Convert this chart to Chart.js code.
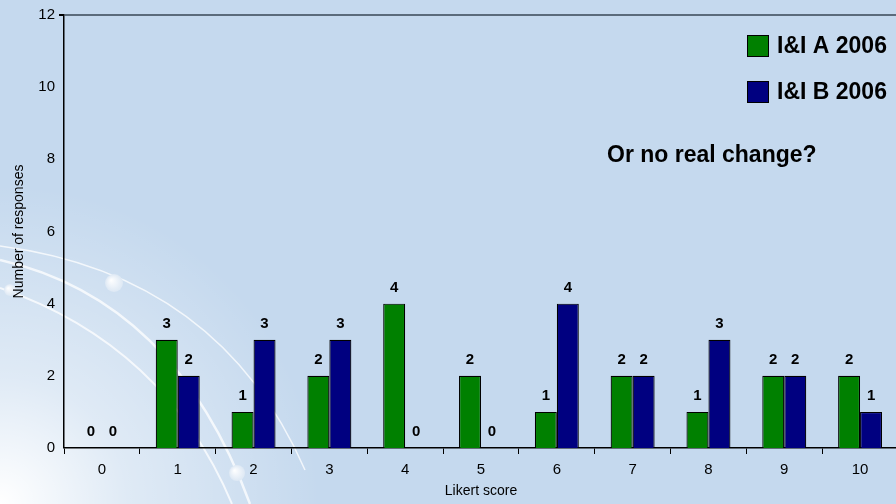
<!DOCTYPE html>
<html>
<head>
<meta charset="utf-8">
<script src="https://cdn.jsdelivr.net/npm/chart.js@4/dist/chart.umd.min.js"></script>
<style>
  html, body { margin: 0; padding: 0; overflow: hidden; background: #c5d9ee; }
  #wrap { width: 900px; height: 504px; }
</style>
</head>
<body>
<div id="wrap"><canvas id="chart" width="900" height="504"></canvas></div>
<script>
const categories = ['0', '1', '2', '3', '4', '5', '6', '7', '8', '9', '10'];
const seriesA = [0, 3, 1, 2, 4, 2, 1, 2, 1, 2, 2];
const seriesB = [0, 2, 3, 3, 0, 0, 4, 2, 3, 2, 1];
const yTicks = [0, 2, 4, 6, 8, 10, 12];
const legendNames = ['I&I A 2006', 'I&I B 2006'];

const FONT = 'Liberation Sans, Arial, sans-serif';

// background: light blue with white glow bottom-left and decorative arcs
const backdrop = {
    id: 'backdrop',
    beforeDraw(chart) {
        const c = chart.ctx;
        c.save();
        c.fillStyle = '#c5d9ee';
        c.fillRect(0, 0, chart.width, chart.height);
        const g = c.createRadialGradient(0, 504, 0, 0, 504, 320);
        g.addColorStop(0, 'rgba(255,255,255,1)');
        g.addColorStop(0.4, 'rgba(255,255,255,0.45)');
        g.addColorStop(1, 'rgba(255,255,255,0)');
        c.fillStyle = g;
        c.fillRect(0, 0, chart.width, chart.height);

        c.strokeStyle = 'rgba(255,255,255,0.75)';
        c.lineWidth = 1.5;
        c.beginPath();
        c.moveTo(0, 246);
        c.quadraticCurveTo(220, 275, 305, 470);
        c.stroke();
        c.lineWidth = 2.5;
        c.beginPath();
        c.moveTo(0, 260);
        c.quadraticCurveTo(175, 300, 250, 504);
        c.stroke();
        c.lineWidth = 2;
        c.beginPath();
        c.moveTo(0, 288);
        c.quadraticCurveTo(165, 345, 232, 504);
        c.stroke();

        [[114, 283, 9], [10, 290, 6], [237, 473, 8]].forEach(([x, y, r]) => {
            const bg = c.createRadialGradient(x - r / 3, y - r / 3, 0, x, y, r);
            bg.addColorStop(0, '#ffffff');
            bg.addColorStop(1, '#dde8f4');
            c.fillStyle = bg;
            c.beginPath();
            c.arc(x, y, r, 0, Math.PI * 2);
            c.fill();
        });
        c.restore();
    }
};

// value labels, legend and annotation
const extras = {
    id: 'extras',
    afterDatasetsDraw(chart) {
        const c = chart.ctx;
        c.save();
        c.fillStyle = '#000';
        c.font = 'bold 15px ' + FONT;
        c.textAlign = 'center';
        c.textBaseline = 'middle';
        chart.data.datasets.forEach((ds, i) => {
            chart.getDatasetMeta(i).data.forEach((bar, j) => {
                c.fillText(String(ds.data[j]), bar.x, bar.y - 16);
            });
        });

        const colors = ['#008000', '#000080'];
        c.font = 'bold 23px ' + FONT;
        c.textAlign = 'left';
        legendNames.forEach((name, i) => {
            const y = 35 + i * 46;
            c.fillStyle = colors[i];
            c.fillRect(747, y, 22, 22);
            c.strokeStyle = '#000';
            c.lineWidth = 1;
            c.strokeRect(747.5, y + 0.5, 21, 21);
            c.fillStyle = '#000';
            c.fillText(name, 777, y + 12);
        });
        c.fillText('Or no real change?', 607, 156);
        c.restore();
    }
};

new Chart(document.getElementById('chart'), {
    type: 'bar',
    data: {
        labels: categories,
        datasets: [
            { label: legendNames[0], data: seriesA, backgroundColor: '#008000', borderColor: '#000', borderWidth: 1.2 },
            { label: legendNames[1], data: seriesB, backgroundColor: '#000080', borderColor: '#000', borderWidth: 1.2 }
        ]
    },
    options: {
        responsive: false,
        animation: false,
        events: [],
        categoryPercentage: 0.58,
        barPercentage: 1,
        layout: { padding: { top: 15, right: 2, left: 0, bottom: 0 } },
        plugins: { legend: { display: false }, tooltip: { enabled: false } },
        scales: {
            x: {
                grid: { offset: true, drawOnChartArea: false, drawTicks: true, tickLength: 6, color: '#000' },
                border: { color: '#000', width: 1.5 },
                ticks: { color: '#000', font: { family: FONT, size: 15 }, padding: 7 },
                title: { display: true, text: 'Likert score', color: '#000', font: { family: FONT, size: 14 }, padding: { top: 8 } },
                afterFit(s) { s.height = 56; }
            },
            y: {
                min: 0, max: 12,
                afterBuildTicks(s) { s.ticks = yTicks.map(v => ({ value: v })); },
                grid: {
                    drawTicks: true, tickLength: 5,
                    color: ctx => ctx.tick && ctx.tick.value === 12 ? '#5b6b7b' : 'transparent',
                    lineWidth: ctx => ctx.tick && ctx.tick.value === 12 ? 2 : 0,
                    tickColor: '#000'
                },
                border: { color: '#000', width: 1.5 },
                ticks: { color: '#000', font: { family: FONT, size: 15 }, padding: 4 },
                title: { display: true, text: 'Number of responses', color: '#000', font: { family: FONT, size: 14 }, padding: { top: 11, bottom: 0 } },
                afterFit(s) { s.width = 64; }
            }
        }
    },
    plugins: [backdrop, extras]
});
</script>
</body>
</html>
